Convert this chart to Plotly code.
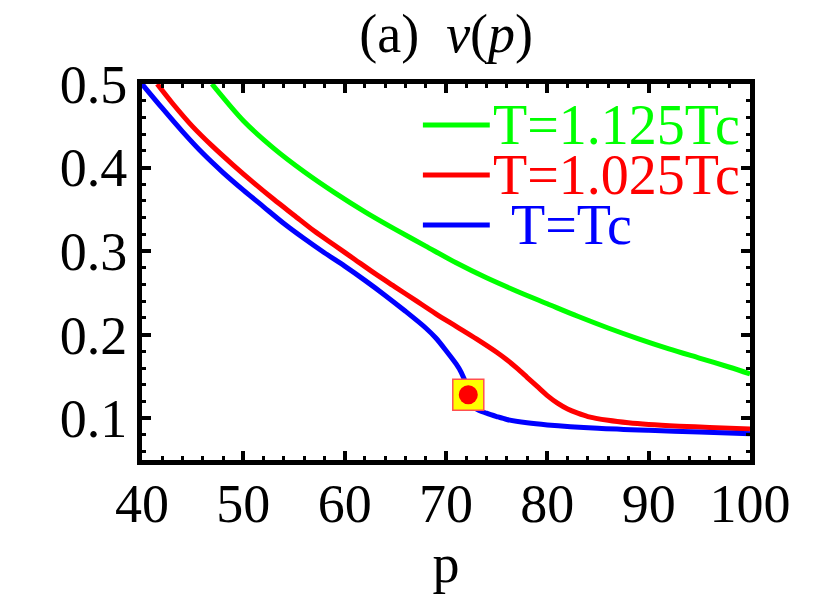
import plotly.graph_objects as go

# ---- data ----
p_green = [46.9, 50, 53, 56, 59, 62, 65, 68, 71, 74, 77, 80, 83, 86, 89, 92, 95, 98, 100]
v_green = [0.500, 0.456, 0.423, 0.395, 0.370, 0.347, 0.326, 0.306, 0.286, 0.268, 0.252,
           0.237, 0.222, 0.208, 0.195, 0.183, 0.172, 0.161, 0.153]

p_red = [41.5, 43, 45, 47, 49, 51, 53, 55, 57, 59, 61, 63, 65, 67, 69, 71, 73, 75, 76,
         77, 78, 79, 80, 81, 82, 83, 84, 86, 88, 90, 93, 96, 100]
v_red = [0.500, 0.477, 0.449, 0.425, 0.403, 0.382, 0.362, 0.343, 0.324, 0.307, 0.290,
         0.273, 0.257, 0.241, 0.225, 0.210, 0.195, 0.179, 0.170, 0.160, 0.149, 0.138,
         0.127, 0.118, 0.111, 0.106, 0.102, 0.0975, 0.0945, 0.0925, 0.0905, 0.089, 0.087]

p_blue = [40, 42, 44, 46, 48, 50, 52, 54, 56, 58, 60, 62, 64, 66, 68, 69, 70, 71, 71.5,
          72.0, 72.2, 72.5, 73, 74, 75, 76, 78, 80, 85, 90, 95, 100]
v_blue = [0.500, 0.471, 0.443, 0.417, 0.394, 0.373, 0.353, 0.333, 0.315, 0.298, 0.282,
          0.265, 0.247, 0.228, 0.208, 0.196, 0.181, 0.165, 0.155, 0.140, 0.128, 0.118,
          0.111, 0.106, 0.102, 0.0985, 0.0945, 0.092, 0.088, 0.0855, 0.0835, 0.0815]

crit_p = [72.2]
crit_v = [0.128]

labels = ["T=1.125Tc", "T=1.025Tc", "T=Tc"]
colors = ["#00ff00", "#ff0000", "#0000ff"]

x_ticks = [40, 50, 60, 70, 80, 90, 100]
y_ticks = [0.1, 0.2, 0.3, 0.4, 0.5]

FONT = "Liberation Serif"

fig = go.Figure()
for px_, pv_, lab, col in zip([p_green, p_red, p_blue], [v_green, v_red, v_blue], labels, colors):
    fig.add_trace(go.Scatter(x=px_, y=pv_, mode="lines", name=lab,
                             line=dict(color=col, width=5, shape="spline", smoothing=0.8),
                             showlegend=False))

fig.add_trace(go.Scatter(x=crit_p, y=crit_v, mode="markers", showlegend=False,
                         marker=dict(symbol="square", size=31, color="#ffff00",
                                     line=dict(color="#ff5050", width=1.5))))
fig.add_trace(go.Scatter(x=crit_p, y=crit_v, mode="markers", showlegend=False,
                         marker=dict(symbol="circle", size=19, color="#ff0000")))

# manual legend (lines + coloured labels)
leg_y = [0.891, 0.758, 0.625]
leg_text_x = [0.574, 0.574, 0.604]
for lab, col, ly, tx in zip(labels, colors, leg_y, leg_text_x):
    fig.add_shape(type="line", xref="paper", yref="paper", x0=0.462, x1=0.572, y0=ly, y1=ly,
                  line=dict(color=col, width=5))
    fig.add_annotation(xref="paper", yref="paper", x=tx, y=ly, text=lab, showarrow=False,
                       xanchor="left", yanchor="middle",
                       font=dict(family=FONT, size=56, color=col))

axis_common = dict(showline=True, linewidth=5, linecolor="black", mirror="allticks",
                   ticks="inside", ticklen=9, tickwidth=4, tickcolor="black",
                   showgrid=False, zeroline=False,
                   tickfont=dict(family=FONT, size=54, color="black"))

fig.update_xaxes(range=[40, 100], tickvals=x_ticks, ticktext=[str(t) for t in x_ticks],
                 minor=dict(ticks="inside", dtick=2, tick0=40, ticklen=4, tickwidth=2.5,
                            tickcolor="black"),
                 ticklabelstandoff=-8,
                 title=dict(text="p", font=dict(family=FONT, size=54, color="black"), standoff=0),
                 **axis_common)
fig.update_yaxes(range=[0.05, 0.5], tickvals=y_ticks, ticktext=[f"{t:.1f}" for t in y_ticks],
                 minor=dict(ticks="inside", dtick=0.02, tick0=0, ticklen=4, tickwidth=2.5,
                            tickcolor="black"),
                 ticklabelstandoff=-1,
                 **axis_common)

fig.update_layout(
    width=822, height=594,
    margin=dict(l=134, r=80, t=76, b=142),
    paper_bgcolor="white", plot_bgcolor="white",
    title=dict(text="(a)&nbsp; <i>v</i>(<i>p</i>)", x=0.533, xanchor="center", y=0.957,
               yanchor="middle", font=dict(family=FONT, size=54, color="black")),
)

fig.write_html("out.html")
